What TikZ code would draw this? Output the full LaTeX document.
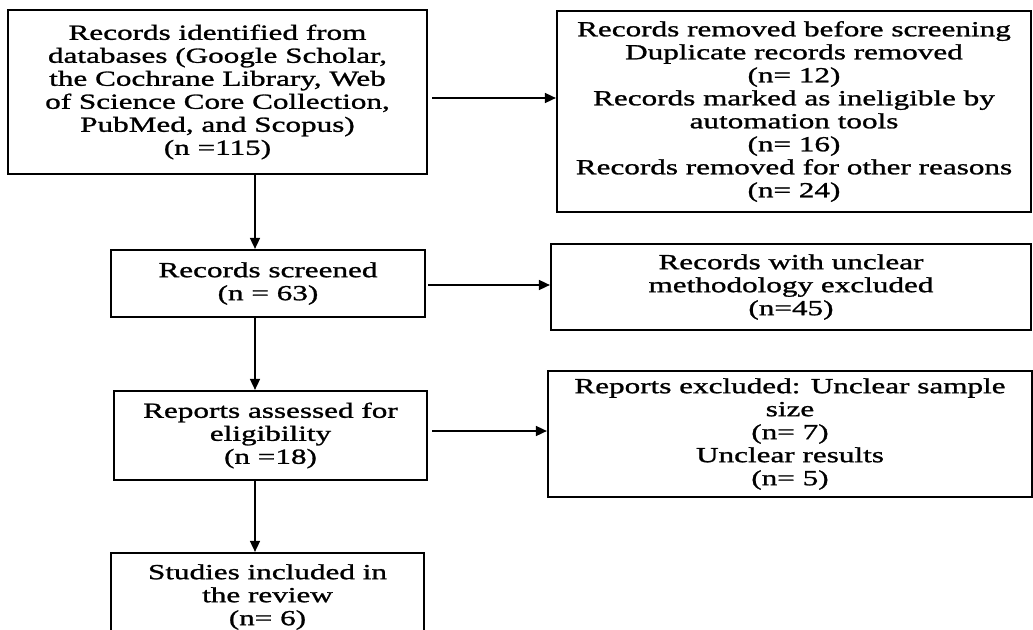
\documentclass[tikz,border=0pt]{standalone}
\usepackage{fontspec}
\setmainfont{Liberation Serif}[FakeStretch=1.45,FakeBold=1.2]
\usetikzlibrary{arrows.meta}

\begin{document}
\begin{tikzpicture}[x=1pt,y=-1pt,
  font=\fontsize{21.5}{23}\selectfont,
  box/.style={draw, line width=2.2pt, align=center, inner sep=0pt},
  arr/.style={line width=1.6pt, -{Triangle[length=11pt,width=10pt]}}]
\useasboundingbox (0,0) rectangle (1033,629);

% left column
\node[box, minimum width=419, minimum height=164] (ident) at (217.5,92)
  {Records identified from\\ databases (Google Scholar,\\ the Cochrane Library, Web\\ of Science Core Collection,\\ PubMed, and Scopus)\\ (n =115)};
\node[box, minimum width=314, minimum height=67] (screened) at (268,283.5)
  {Records screened\\ (n = 63)};
\node[box, minimum width=313, minimum height=89] (assessed) at (270.5,435.5)
  {Reports assessed for\\ eligibility\\ (n =18)};
\node[box, minimum width=313, minimum height=88] (studies) at (267.5,597)
  {Studies included in\\ the review\\ (n= 6)};

% right column
\node[box, minimum width=474, minimum height=201] (removed) at (794,111.5)
  {Records removed before screening\\ Duplicate records removed\\ (n= 12)\\ Records marked as ineligible by\\ automation tools\\ (n= 16)\\ Records removed for other reasons\\ (n= 24)};
\node[box, minimum width=480, minimum height=86] (unclear) at (791,287)
  {Records with unclear\\ methodology excluded\\ (n=45)};
\node[box, minimum width=484, minimum height=126] (excluded) at (790,434)
  {Reports excluded: Unclear sample\\ size\\ (n= 7)\\ Unclear results\\ (n= 5)};

\coordinate (spine) at (255,0);
\draw[arr] (ident.south -| spine) -- (screened.north -| spine);
\draw[arr] (screened.south -| spine) -- (assessed.north -| spine);
\draw[arr] (assessed.south -| spine) -- (studies.north -| spine);

\draw[arr, shorten <=4pt] ([yshift=-6pt]ident.east) -- ([yshift=-6pt]ident.east -| removed.west);
\draw[arr, shorten <=2pt] ([yshift=-1.5pt]screened.east) -- ([yshift=-1.5pt]screened.east -| unclear.west);
\draw[arr, shorten <=4pt] ([yshift=4.5pt]assessed.east) -- ([yshift=4.5pt]assessed.east -| excluded.west);
\end{tikzpicture}
\end{document}
